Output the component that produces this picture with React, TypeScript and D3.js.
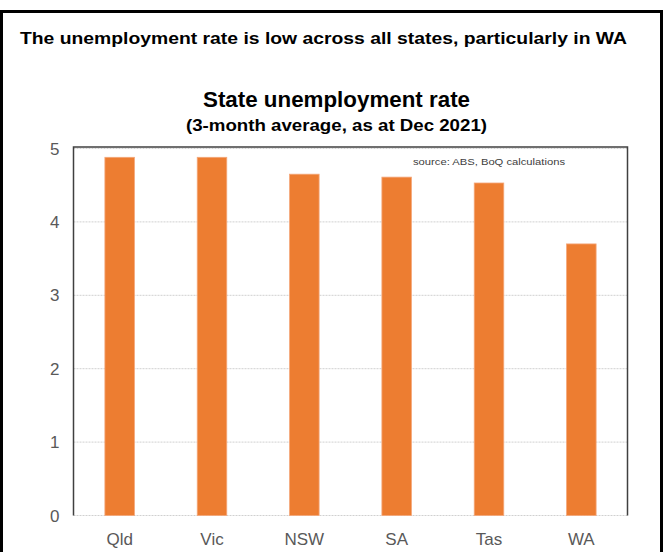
import React from "react";
import * as d3 from "d3";

const categories = ["Qld", "Vic", "NSW", "SA", "Tas", "WA"];
const values = [4.88, 4.88, 4.65, 4.61, 4.53, 3.7];
const yTicks = [0, 1, 2, 3, 4, 5];

const W = 663;
const H = 552;

export default function App() {
  const left = 73.5;
  const right = 627.5;
  const top = 148.5;
  const bottom = 515.5;

  const x = d3.scaleBand<string>().domain(categories).range([left, right]).paddingInner(0.68).paddingOuter(0.34);
  const y = d3.scaleLinear().domain([0, 5]).range([bottom, top]);

  const font = "'Liberation Sans Narrow', 'Liberation Sans', Arial, sans-serif";
  const grey = "#595959";

  return (
    <svg width={W} height={H} style={{ position: "absolute", left: 0, top: 0, background: "#fff" }}>
      <rect x={0} y={0} width={W} height={H} fill="#fff" />
      {/* outer frame */}
      <line x1={0} x2={W} y1={11.5} y2={11.5} stroke="#000" strokeWidth={3} />
      <line x1={1.5} x2={1.5} y1={10} y2={H} stroke="#000" strokeWidth={3} />
      <line x1={661.5} x2={661.5} y1={10} y2={H} stroke="#000" strokeWidth={3} />

      <text x={20} y={44} fontFamily={font} fontWeight="bold" fontSize={17} fill="#000" textLength={607} lengthAdjust="spacingAndGlyphs">
        The unemployment rate is low across all states, particularly in WA
      </text>

      <text x={336.5} y={107} textAnchor="middle" fontFamily={font} fontWeight="bold" fontSize={22} fill="#000" textLength={267} lengthAdjust="spacingAndGlyphs">
        State unemployment rate
      </text>
      <text x={336.5} y={131} textAnchor="middle" fontFamily={font} fontWeight="bold" fontSize={17} fill="#000" textLength={301} lengthAdjust="spacingAndGlyphs">
        (3-month  average, as at Dec 2021)
      </text>

      {/* gridlines */}
      {yTicks.map((t) => (
        <line key={t} x1={left} x2={right} y1={y(t)} y2={y(t)} stroke="#d0d0d0" strokeWidth={1} strokeDasharray="2,1" />
      ))}

      {/* bars */}
      {categories.map((c, i) => (
        <rect
          key={c}
          x={x(c)!}
          y={y(values[i])}
          width={x.bandwidth()}
          height={bottom - y(values[i])}
          fill="#ED7D31"
          stroke="#F4A77A"
          strokeWidth={0.8}
        />
      ))}

      {/* frame */}
      <path d={`M${left},${bottom}V${top - 1.5}H${right}V${bottom}`} fill="none" stroke="#404040" strokeWidth={1.5} />

      <text x={413} y={165} fontFamily={font} fontSize={9.5} fill="#404040" textLength={152} lengthAdjust="spacingAndGlyphs">
        source:  ABS, BoQ calculations
      </text>

      {yTicks.map((t) => (
        <text key={t} x={59.5} y={y(t) + 6} textAnchor="end" fontFamily={font} fontSize={17} fill={grey}>
          {t}
        </text>
      ))}

      {categories.map((c) => (
        <text key={c} x={x(c)! + x.bandwidth() / 2} y={545} textAnchor="middle" fontFamily={font} fontSize={17} fill={grey}>
          {c}
        </text>
      ))}
    </svg>
  );
}
